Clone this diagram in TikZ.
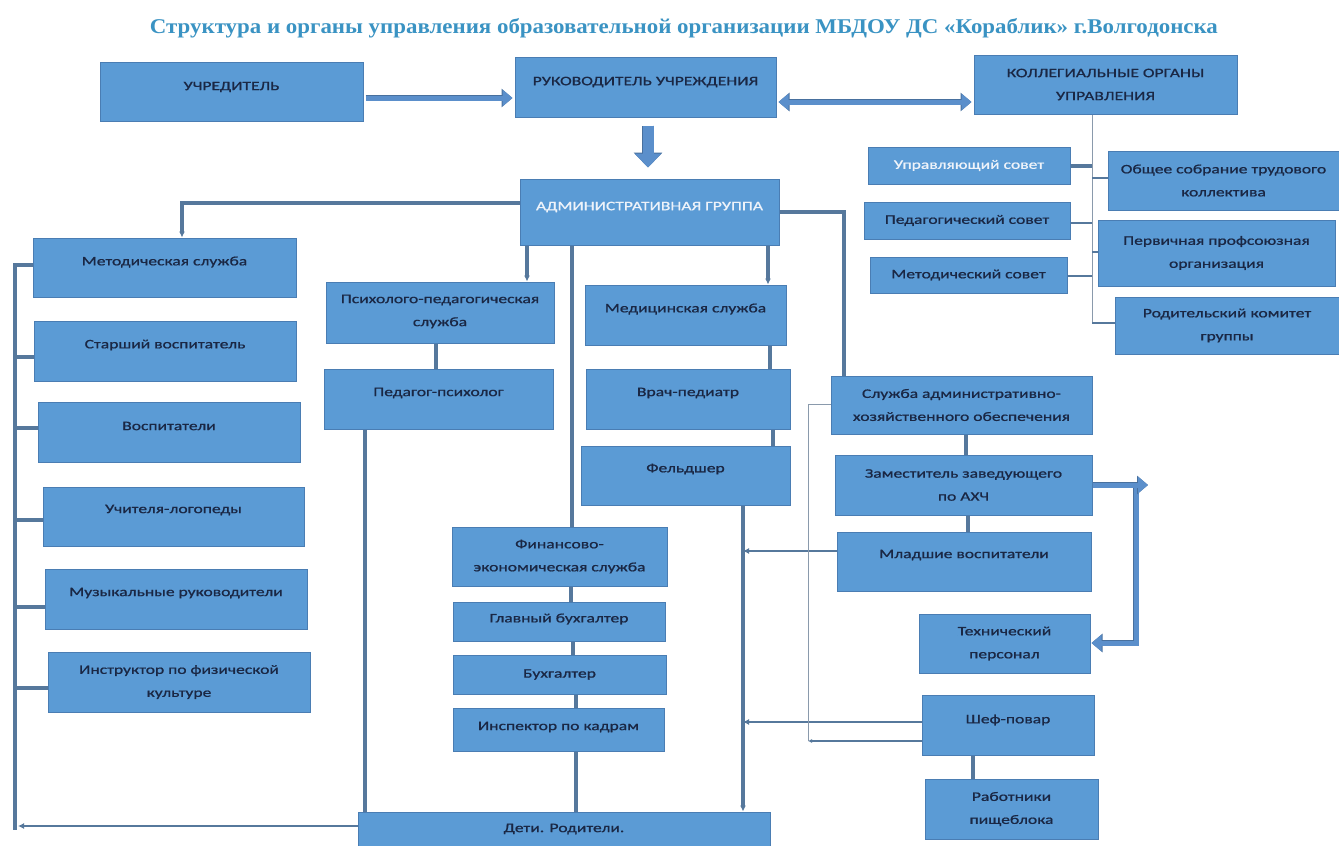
\documentclass[tikz,border=0pt]{standalone}
\usepackage{fontspec}
\setmainfont{Carlito}
\newfontfamily\boxfont[FakeStretch=1.35,FakeBold=0.9]{Carlito}
\newfontfamily\titlefont{Liberation Serif}
\usetikzlibrary{arrows.meta,calc,fit}
\definecolor{boxfill}{HTML}{5B9BD5}
\definecolor{boxedge}{HTML}{4A7DB3}
\definecolor{txtc}{HTML}{1A2744}
\definecolor{wtxtc}{HTML}{EEF3FA}
\definecolor{connc}{HTML}{56789C}
\definecolor{thinc}{HTML}{8A9AAC}
\definecolor{titlec}{HTML}{3A93C3}
\definecolor{bfill}{HTML}{5B8FCB}
\definecolor{bedge}{HTML}{48709E}
\tikzset{
  box/.style={draw=boxedge, line width=1pt, fill=boxfill, inner sep=0pt},
  txt/.style={font=\boxfont\fontsize{13}{23}\selectfont, text=txtc, align=center, inner sep=0pt},
  wtxt/.style={text=wtxtc},
  conn/.style={draw=connc, line width=3.1pt},
  thinl/.style={draw=thinc, line width=1pt},
  tip/.style={-{Latex[length=6pt,width=6pt]}},
  blockarrow/.style={draw=bfill, line width=5pt, -{Triangle[length=10pt,width=16pt]},
     preaction={draw=bedge, line width=6.6pt, -{Triangle[length=11pt,width=18pt]}}},
  blockarrowb/.style={draw=bfill, line width=5pt, {Triangle[length=10pt,width=16pt]}-{Triangle[length=10pt,width=16pt]},
     preaction={draw=bedge, line width=6.6pt, {Triangle[length=11pt,width=18pt]}-{Triangle[length=11pt,width=18pt]}}},
  bigarrow/.style={draw=bfill, line width=11pt, -{Triangle[length=14pt,width=26pt]},
     preaction={draw=bedge, line width=12.6pt, -{Triangle[length=15pt,width=28pt]}}},
}
% #1 text style, #2 name, #3 x1, #4 y1, #5 x2, #6 y2, #7 text shift, #8 text
\newcommand{\bx}[8][]{%
  \node[box, fit={(#3,#4) (#5,#6)}] (#2) {};
  \node[txt,#1] (#2-t) at ([yshift=#7pt]#2.center) {#8};
}
\begin{document}
\begin{tikzpicture}[x=1pt,y=-1pt]
\useasboundingbox[fill=white] (0,0) rectangle (1339,846);

\node[font=\titlefont\bfseries\fontsize{21}{24}\selectfont, text=titlec, inner sep=0pt] (title) at (684,28)
  {\resizebox{1068pt}{\height}{Структура и органы управления образовательной организации МБДОУ ДС «Кораблик» г.Волгодонска}};

% top row
\bx{uch}{100}{62}{363}{121}{4.5}{УЧРЕДИТЕЛЬ}
\bx{ruk}{515}{57}{776}{117}{5}{РУКОВОДИТЕЛЬ УЧРЕЖДЕНИЯ}
\bx{kol}{974}{55}{1237}{114}{0}{КОЛЛЕГИАЛЬНЫЕ ОРГАНЫ\\УПРАВЛЕНИЯ}
\bx[wtxt]{adm}{520}{179}{779}{245}{5}{АДМИНИСТРАТИВНАЯ ГРУППА}

% collegial bodies
\bx[wtxt]{upr}{868}{147}{1070}{184}{0}{Управляющий совет}
\bx{ped}{864}{202}{1070}{239}{0}{Педагогический совет}
\bx{mets}{870}{257}{1067}{293}{0}{Методический совет}
\bx{obs}{1108}{151}{1339}{210}{0}{Общее собрание трудового\\коллектива}
\bx{per}{1098}{220}{1335}{286}{0}{Первичная профсоюзная\\организация}
\bx{rod}{1115}{297}{1339}{354}{0}{Родительский комитет\\группы}

% left column
\bx{met}{33}{238}{296}{297}{5.5}{Методическая служба}
\bx{sta}{34}{321}{296}{381}{6}{Старший воспитатель}
\bx{vos}{38}{402}{300}{462}{6}{Воспитатели}
\bx{logo}{43}{487}{304}{546}{6.5}{Учителя-логопеды}
\bx{muz}{45}{569}{307}{629}{6}{Музыкальные руководители}
\bx{ins}{48}{652}{310}{712}{0}{Инструктор по физической\\культуре}

% middle
\bx{psy}{326}{282}{554}{343}{1}{Психолого-педагогическая\\служба}
\bx{pp}{324}{369}{553}{429}{6}{Педагог-психолог}
\bx{med}{585}{285}{786}{345}{6}{Медицинская служба}
\bx{vra}{586}{369}{790}{429}{6}{Врач-педиатр}
\bx{fel}{581}{446}{790}{505}{6.5}{Фельдшер}
\bx{fin}{452}{527}{667}{586}{0}{Финансово-\\экономическая служба}
\bx{glv}{453}{602}{665}{641}{2.5}{Главный бухгалтер}
\bx{bux}{453}{655}{666}{694}{0}{Бухгалтер}
\bx{ink}{453}{708}{664}{751}{2.5}{Инспектор по кадрам}

% right
\bx{aho}{831}{376}{1092}{434}{0}{Служба административно-\\хозяйственного обеспечения}
\bx{zam}{835}{455}{1092}{515}{0}{Заместитель заведующего\\по АХЧ}
\bx{mla}{837}{532}{1091}{591}{6.5}{Младшие воспитатели}
\bx{tex}{919}{614}{1090}{673}{0}{Технический\\персонал}
\bx{shf}{922}{695}{1094}{755}{5}{Шеф-повар}
\bx{rab}{925}{779}{1098}{839}{0}{Работники\\пищеблока}

\bx{det}{358}{812}{770}{846}{0}{Дети. Родители.}

% helper coordinates
\coordinate (busL) at (15,830);
\coordinate (busK) at (1092,323);
\coordinate (cr) at (808,741);
\coordinate (zt) at (1136,485);
\coordinate (zr) at (1136,643);

% block arrows
\draw[blockarrow, shorten <=2pt, shorten >=2pt] ([yshift=-6.5pt]uch.east) coordinate (c1) -- (c1 -| ruk.west);
\draw[blockarrowb, shorten <=2pt, shorten >=2pt] ([yshift=-15pt]ruk.east) coordinate (c2) -- (c2 -| kol.west);
\draw[bigarrow, shorten >=11pt] ([xshift=2.5pt,yshift=-8pt]ruk.south) coordinate (c3) -- (c3 |- adm.north);

% administrative group
\draw[conn, tip] ([yshift=9pt]adm.west) -| ([xshift=17.5pt]met.north);
\draw[conn, tip] ([xshift=-122.5pt]adm.south) coordinate (c5) -- (c5 |- psy.north);
\draw[conn] ([xshift=-77.5pt]adm.south) coordinate (c6) -- (c6 |- fin.north);
\draw[conn, tip] ([xshift=118.5pt]adm.south) coordinate (c7) -- (c7 |- med.north);
\draw[conn] (adm.east) -| ([xshift=-117.5pt]aho.north);

% psychology
\draw[conn] ([xshift=-4pt]psy.south) coordinate (c9) -- (c9 |- pp.north);
\draw[conn] ([xshift=-73.5pt]pp.south) coordinate (c10) -- (c10 |- det.north);

% medical
\draw[conn] ([xshift=84.5pt]med.south) coordinate (c11) -- (c11 |- vra.north);
\draw[conn] ([xshift=85pt]vra.south) coordinate (c12) -- (c12 |- fel.north);
\draw[conn, line width=3.8pt, tip] ([xshift=57.5pt]fel.south) coordinate (fx) -- (fx |- det.north);
\draw[conn, line width=2pt, tip] ([yshift=10.5pt]mla.west) coordinate (c14) -- (c14 -| fx);
\draw[conn, line width=2pt, tip] ([yshift=3pt]shf.west) coordinate (c15) -- (c15 -| fx);

% finance chain
\draw[conn] ([xshift=11.5pt]fin.south) coordinate (f1) -- (f1 |- glv.north);
\draw[conn] ([xshift=14pt]glv.south) coordinate (f2) -- (f2 |- bux.north);
\draw[conn] ([xshift=16.5pt]bux.south) coordinate (f3) -- (f3 |- ink.north);
\draw[conn] ([xshift=17.5pt]ink.south) coordinate (f4) -- (f4 |- det.north);

% administrative-economic
\draw[thinl] ([yshift=1pt]aho.west) -| (cr);
\draw[conn, line width=1.8pt, -{Latex[length=4pt,width=4pt]}] ([yshift=-16pt]shf.west) -- (cr);
\draw[conn] ([xshift=4.5pt]aho.south) coordinate (c17) -- (c17 |- zam.north);
\draw[conn] ([xshift=4.5pt]zam.south) coordinate (c18) -- (c18 |- mla.north);
\draw[blockarrow, shorten >=1pt] (zt) -- (zr) -- (zr -| tex.east);
\draw[blockarrow] (zam.east) -- ([xshift=12pt]zt);
\draw[conn] ([xshift=-35pt]shf.south) coordinate (c20) -- (c20 |- rab.north);

% left bus
\draw[conn] ([yshift=2.5pt]met.west) -| (busL);
\draw[conn] ([yshift=-6pt]sta.west) coordinate (s1) -- (s1 -| busL);
\draw[conn] ([yshift=4pt]vos.west) coordinate (s2) -- (s2 -| busL);
\draw[conn] ([yshift=-3.5pt]logo.west) coordinate (s3) -- (s3 -| busL);
\draw[conn] ([yshift=-8pt]muz.west) coordinate (s4) -- (s4 -| busL);
\draw[conn] ([yshift=-6pt]ins.west) coordinate (s5) -- (s5 -| busL);
\draw[conn, line width=2.2pt, tip] ([yshift=3pt]det.west) coordinate (s6) -- ([xshift=3pt]s6 -| busL);

% collegial bus
\draw[thinl] (kol.south -| busK) -- (busK);
\draw[conn, line width=3.6pt] ([yshift=-0.5pt]upr.east) coordinate (k1) -- (k1 -| busK);
\draw[conn, line width=2.2pt] ([yshift=2.5pt]obs.west) coordinate (k2) -- (k2 -| busK);
\draw[conn, line width=2.6pt] ([yshift=-2.5pt]ped.east) coordinate (k3) -- (k3 -| busK);
\draw[conn, line width=2.2pt] ([yshift=1pt]per.west) coordinate (k4) -- (k4 -| busK);
\draw[conn, line width=2.6pt] ([yshift=-1pt]mets.east) coordinate (k5) -- (k5 -| busK);
\draw[conn, line width=2.2pt] ([yshift=2.5pt]rod.west) coordinate (k6) -- (k6 -| busK);
\end{tikzpicture}
\end{document}
